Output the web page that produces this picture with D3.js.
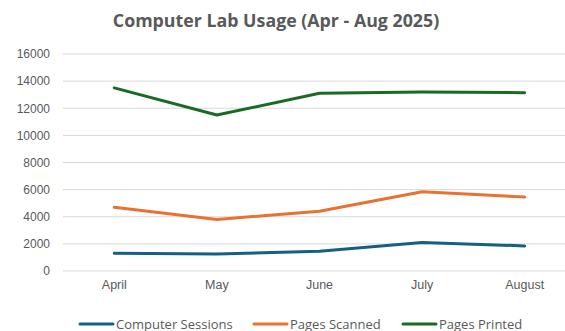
<!DOCTYPE html>
<html>
<head>
<meta charset="utf-8">
<script src="https://cdn.jsdelivr.net/npm/d3@7"></script>
<style>
  html, body { margin: 0; padding: 0; background: #fff; }
  svg { display: block; font-family: "Open Sans", "Noto Sans", sans-serif; }
</style>
</head>
<body>
<svg id="chart" width="565" height="331"></svg>
<script>
// Monthly usage figures for the computer lab
const months = ["April", "May", "June", "July", "August"];
const computerSessions = [1300, 1250, 1450, 2100, 1850];
const pagesScanned = [4700, 3800, 4400, 5850, 5450];
const pagesPrinted = [13500, 11500, 13100, 13200, 13150];
const yTicks = [0, 2000, 4000, 6000, 8000, 10000, 12000, 14000, 16000];
const seriesNames = ["Computer Sessions", "Pages Scanned", "Pages Printed"];
const seriesColors = ["#156082", "#E97132", "#196B24"];

const series = [computerSessions, pagesScanned, pagesPrinted].map((values, i) => ({
  name: seriesNames[i], color: seriesColors[i], values
}));

const svg = d3.select("#chart");
const W = 565, H = 331;
const plot = { left: 63, right: 576, top: 54, bottom: 271 };

const x = d3.scaleBand().domain(months).range([plot.left, plot.right]);
const y = d3.scaleLinear().domain([0, 16000]).range([plot.bottom, plot.top]);

// Title
svg.append("text")
  .attr("x", 276).attr("y", 27)
  .attr("text-anchor", "middle")
  .attr("font-size", 17.8).attr("font-weight", "bold")
  .attr("fill", "#595959")
  .text("Computer Lab Usage (Apr - Aug 2025)");

// Horizontal gridlines
svg.append("g").selectAll("line").data(yTicks).join("line")
  .attr("x1", plot.left).attr("x2", W)
  .attr("y1", d => y(d)).attr("y2", d => y(d))
  .attr("stroke", "#d9d9d9").attr("stroke-width", 1);

// Y axis labels
const yAxis = d3.axisLeft(y).tickValues(yTicks).tickFormat(d3.format("d")).tickSize(0).tickPadding(0);
const gy = svg.append("g").attr("transform", `translate(50,0)`).call(yAxis);
gy.select(".domain").remove();
gy.selectAll("text").attr("font-size", 12).attr("fill", "#595959").attr("font-family", "inherit");

// X axis labels
const xAxis = d3.axisBottom(x).tickSize(0).tickPadding(0);
const gx = svg.append("g").attr("transform", `translate(0,280)`).call(xAxis);
gx.select(".domain").remove();
gx.selectAll("text").attr("font-size", 12.5).attr("fill", "#595959").attr("font-family", "inherit");

// Lines
const line = d3.line()
  .x((d, i) => x(months[i]) + x.bandwidth() / 2)
  .y(d => y(d));

svg.append("g").selectAll("path").data(series).join("path")
  .attr("d", d => line(d.values))
  .attr("fill", "none")
  .attr("stroke", d => d.color)
  .attr("stroke-width", 3)
  .attr("stroke-linejoin", "round")
  .attr("stroke-linecap", "round");

// Legend
const legendX = [80, 254, 403];
const lg = svg.append("g").selectAll("g").data(series).join("g")
  .attr("transform", (d, i) => `translate(${legendX[i]},324)`);
lg.append("line")
  .attr("x1", 0).attr("x2", 33).attr("y1", 0).attr("y2", 0)
  .attr("stroke", d => d.color).attr("stroke-width", 3).attr("stroke-linecap", "round");
lg.append("text")
  .attr("x", 36).attr("y", 4.5)
  .attr("font-size", 13).attr("fill", "#595959")
  .text(d => d.name);
</script>
</body>
</html>
